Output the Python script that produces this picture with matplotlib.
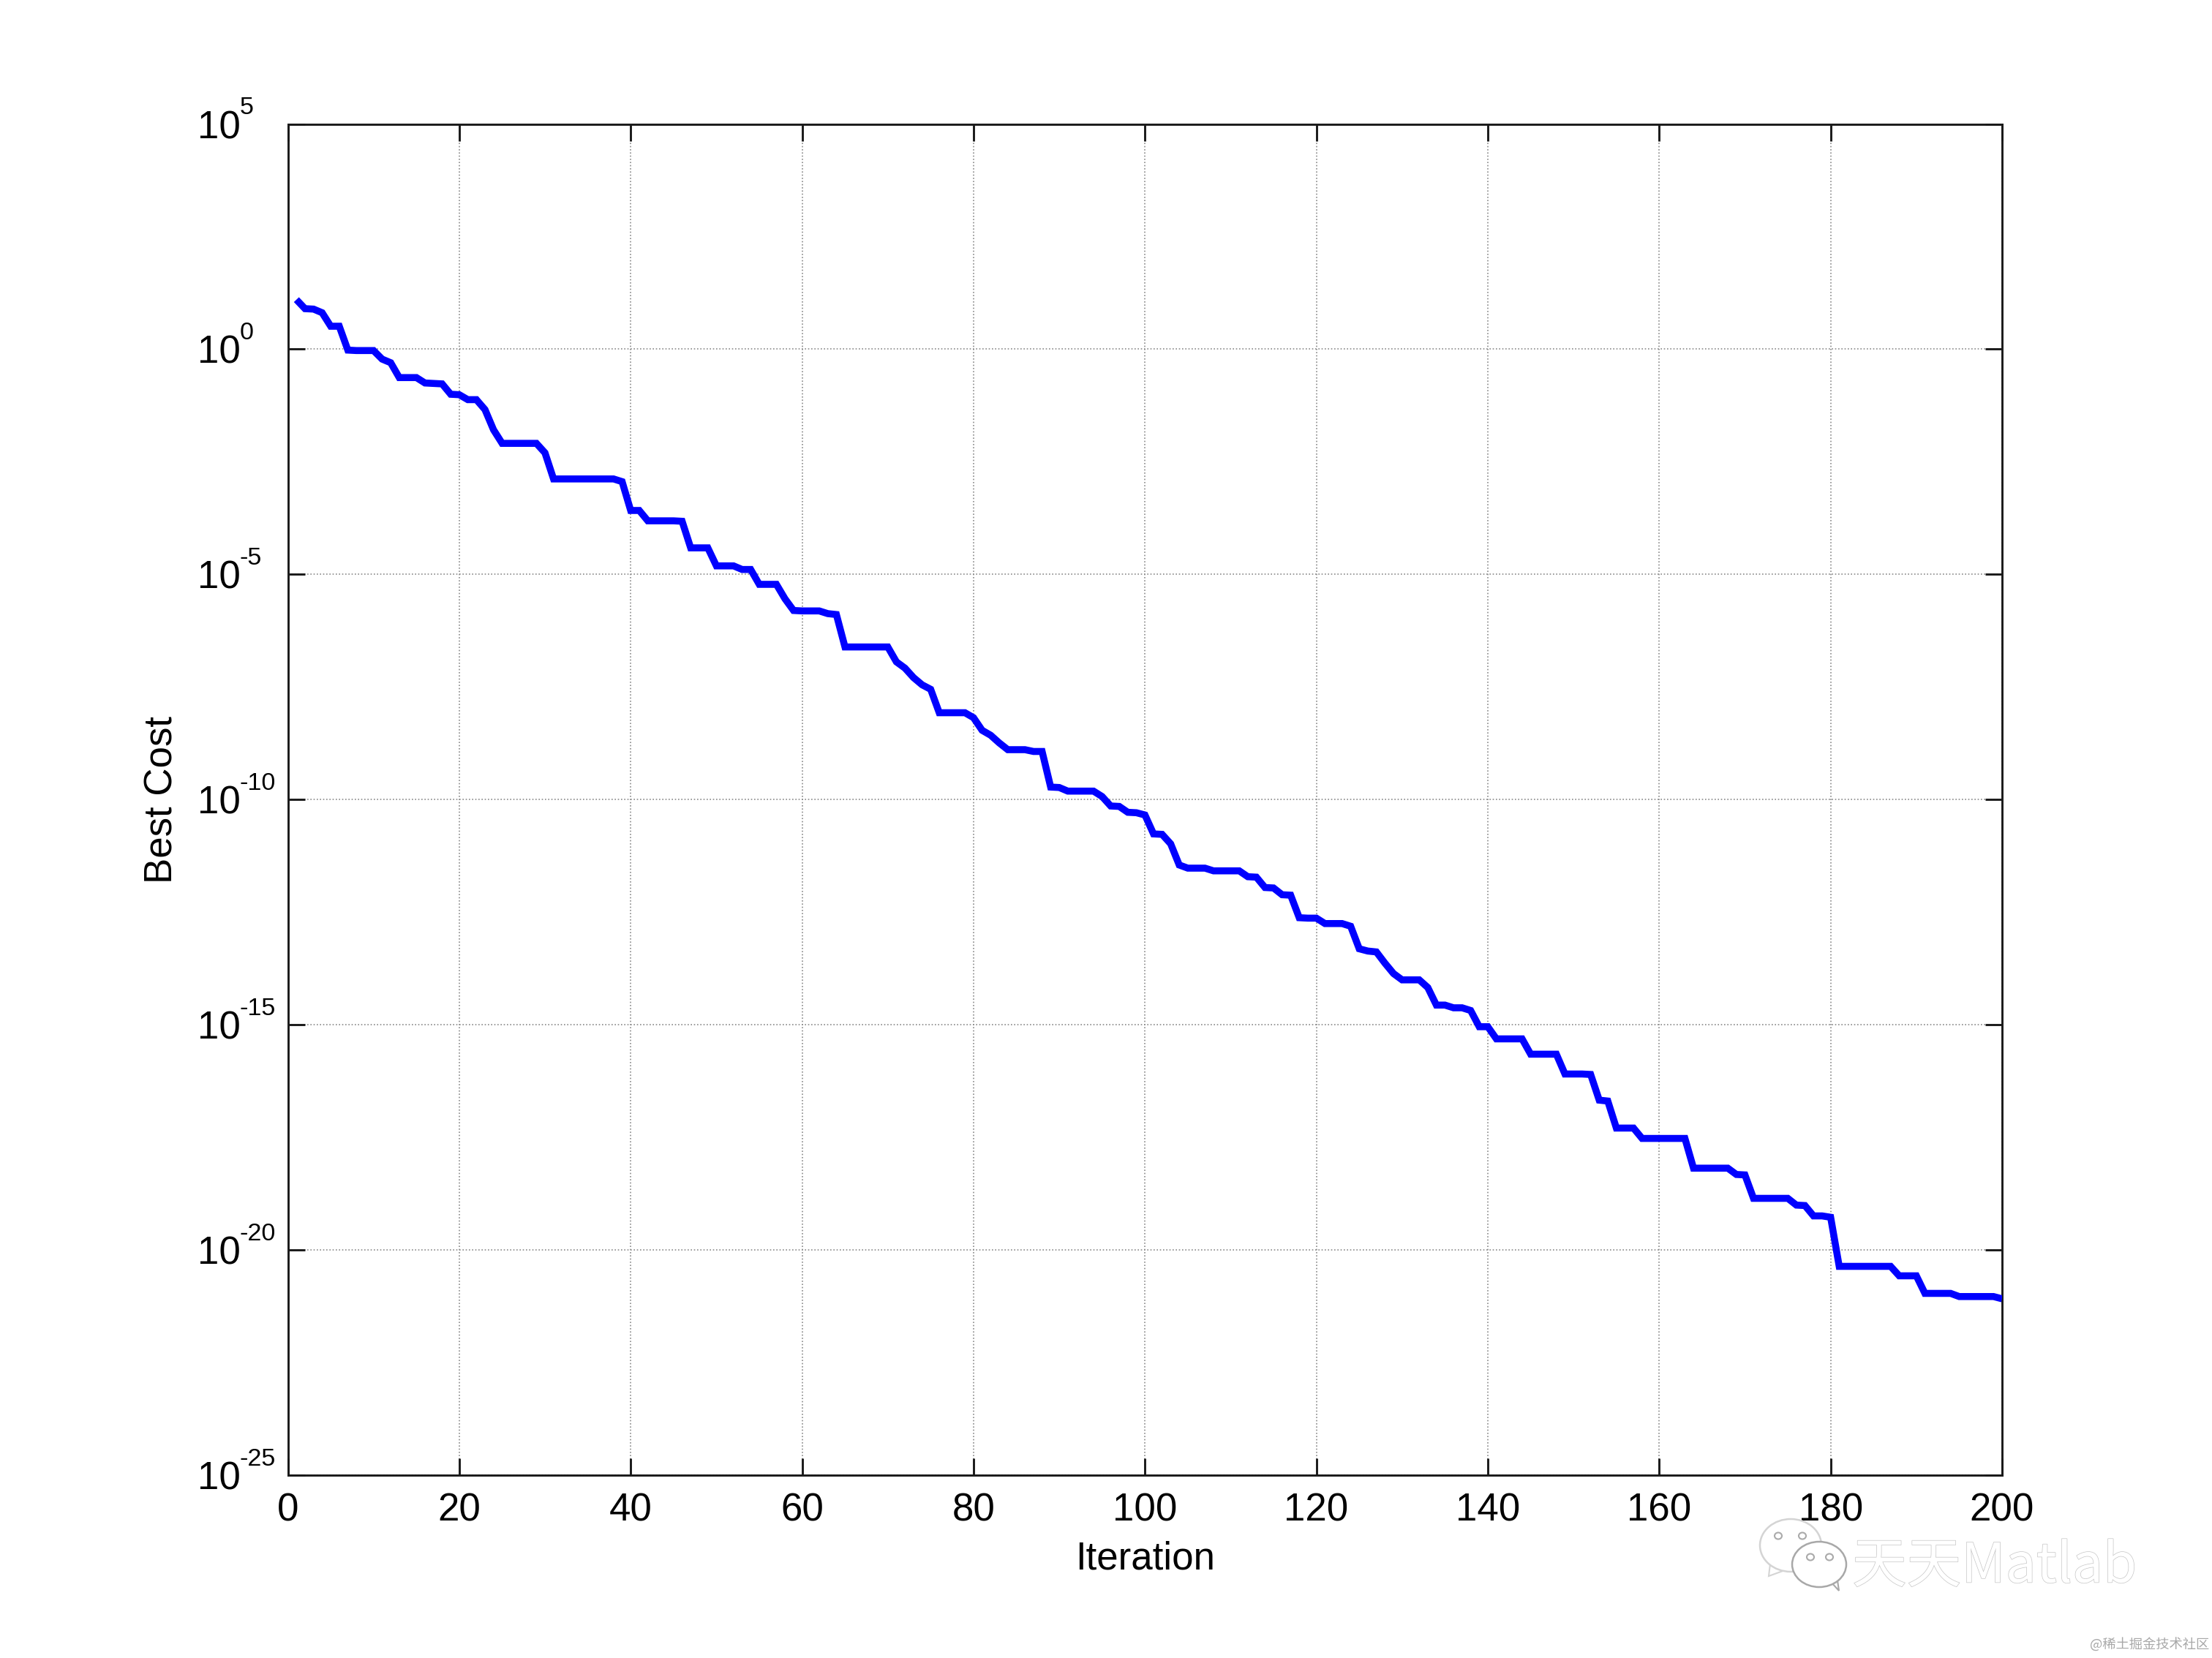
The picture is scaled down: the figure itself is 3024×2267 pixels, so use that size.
import numpy as np
import matplotlib
matplotlib.use("Agg")
import matplotlib.pyplot as plt
from matplotlib.patches import Ellipse, Polygon
from matplotlib import patheffects as pe
from matplotlib.transforms import ScaledTranslation

plt.rcParams['font.family'] = ['Liberation Sans', 'DejaVu Sans']

# log10 of best cost for iterations 1..200
best_cost_log10 = [
    1.10, 0.90, 0.89, 0.81, 0.51, 0.51, -0.02, -0.03, -0.03, -0.03,
    -0.22, -0.30, -0.63, -0.63, -0.63, -0.75, -0.76, -0.77, -1.00, -1.01,
    -1.12, -1.12, -1.34, -1.79, -2.09, -2.09, -2.09, -2.09, -2.09, -2.30,
    -2.88, -2.88, -2.88, -2.88, -2.88, -2.88, -2.88, -2.88, -2.94, -3.58,
    -3.58, -3.81, -3.81, -3.81, -3.81, -3.82, -4.41, -4.41, -4.41, -4.81,
    -4.81, -4.81, -4.89, -4.89, -5.22, -5.22, -5.22, -5.54, -5.80, -5.81,
    -5.81, -5.81, -5.87, -5.89, -6.61, -6.61, -6.61, -6.61, -6.61, -6.61,
    -6.94, -7.08, -7.29, -7.45, -7.55, -8.07, -8.07, -8.07, -8.07, -8.18,
    -8.46, -8.57, -8.74, -8.89, -8.89, -8.89, -8.93, -8.93, -9.72, -9.73,
    -9.81, -9.81, -9.81, -9.81, -9.93, -10.14, -10.15, -10.28, -10.29, -10.34,
    -10.76, -10.77, -10.98, -11.45, -11.52, -11.52, -11.52, -11.58, -11.58, -11.58,
    -11.58, -11.71, -11.72, -11.95, -11.96, -12.11, -12.12, -12.62, -12.63, -12.63,
    -12.75, -12.75, -12.75, -12.81, -13.31, -13.36, -13.38, -13.63, -13.86, -14.00,
    -14.00, -14.00, -14.17, -14.56, -14.56, -14.62, -14.62, -14.68, -15.04, -15.04,
    -15.31, -15.31, -15.31, -15.31, -15.65, -15.65, -15.65, -15.65, -16.09, -16.09,
    -16.09, -16.10, -16.67, -16.69, -17.29, -17.29, -17.29, -17.52, -17.52, -17.52,
    -17.52, -17.52, -17.52, -18.18, -18.18, -18.18, -18.18, -18.18, -18.32, -18.33,
    -18.85, -18.85, -18.85, -18.85, -18.85, -19.00, -19.01, -19.24, -19.24, -19.27,
    -20.36, -20.36, -20.36, -20.36, -20.36, -20.36, -20.36, -20.57, -20.57, -20.57,
    -20.96, -20.96, -20.96, -20.96, -21.03, -21.03, -21.03, -21.03, -21.03, -21.08,
]
x_ticks = list(range(0, 201, 20))
y_exponents = [5, 0, -5, -10, -15, -20, -25]
x_label = "Iteration"
y_label = "Best Cost"

W, H = 3024, 2267
DPI = 300
fig = plt.figure(figsize=(W / DPI, H / DPI), dpi=DPI, facecolor='white')
L, R, T, B = 393.5, 2737.0, 169.5, 2017.3
ax = fig.add_axes([L / W, 1 - B / H, (R - L) / W, (B - T) / H])

iterations = np.arange(1, len(best_cost_log10) + 1)
ax.semilogy(iterations, 10.0 ** np.array(best_cost_log10), color='#0000FF', lw=2.3,
            solid_joinstyle='miter', solid_capstyle='butt', clip_on=True, zorder=3)
ax.set_xlim(0, 200)
ax.set_ylim(1e-25, 1e5)
ax.set_xticks(x_ticks)
ax.set_yticks([10.0 ** e for e in y_exponents])
ax.minorticks_off()
ax.set_xticklabels([str(t) for t in x_ticks])
ax.set_yticklabels(['10' for e in y_exponents])

ax.grid(True, which='major', color='#8a8a8a', lw=0.4, ls=(0, (1, 1.6)), zorder=1)
ax.tick_params(axis='both', which='major', direction='in', length=5.6, width=0.7,
               top=True, right=True, color='#1a1a1a', labelsize=12.7, labelcolor='black')
ax.tick_params(axis='x', pad=5.5)
ax.tick_params(axis='y', pad=29.7)
for sp in ax.spines.values():
    sp.set_linewidth(0.7)
    sp.set_color('#1a1a1a')

off = ScaledTranslation(0, -19.5 / DPI, fig.dpi_scale_trans)
for lab in ax.get_yticklabels():
    lab.set_ha('left')
    lab.set_va('baseline')
    lab.set_transform(lab.get_transform() + off)

# exponents of the y tick labels
for e in y_exponents:
    ax.annotate(str(e), xy=(0, 10.0 ** e), xycoords=('axes fraction', 'data'),
                xytext=(-15.8, 3.2), textcoords='offset points', ha='left', va='baseline',
                fontsize=8.2, color='black', annotation_clip=False)

fig.text((L + R) / 2 / W, 1 - 2131 / H, x_label, ha='center', va='center', fontsize=12.7, color='black')
fig.text(222 / W, 1 - 1093 / H, y_label, ha='center', va='center', rotation=90, fontsize=12.7, color='black')

# watermark
overlay = fig.add_axes([0, 0, 1, 1], facecolor='none')
overlay.set_xlim(0, W)
overlay.set_ylim(H, 0)
overlay.axis('off')
for (cx, cy, w, h, tail, edge) in [
    (2448, 2113, 84, 72, [(2420, 2138), (2418, 2155), (2440, 2147)], '#d4d4d4'),
    (2487, 2139, 74, 62, [(2503, 2163), (2514, 2175), (2511, 2154)], '#a8a8a8'),
]:
    overlay.add_patch(Polygon(tail, closed=True, fc='white', ec=edge, lw=0.5))
    overlay.add_patch(Ellipse((cx, cy), w, h, fc='white', ec=edge, lw=0.6))
for (cx, cy) in [(2431, 2100), (2464, 2100), (2475, 2129), (2501, 2129)]:
    overlay.add_patch(Ellipse((cx, cy), 10, 9, fc='white', ec='#aaaaaa', lw=0.5))
overlay.text(2532, 2142, '天天Matlab', family=['Noto Sans CJK SC', 'DejaVu Sans'], fontsize=17.9,
             ha='left', va='center', color='white',
             path_effects=[pe.withStroke(linewidth=0.35, foreground='#c8c8c8')])
overlay.text(3020, 2249, '@稀土掘金技术社区', family=['Noto Sans CJK SC', 'DejaVu Sans'], fontsize=4.4,
             ha='right', va='center', color='#a8a8a8')

fig.savefig('out.png', dpi=DPI, facecolor='white')
